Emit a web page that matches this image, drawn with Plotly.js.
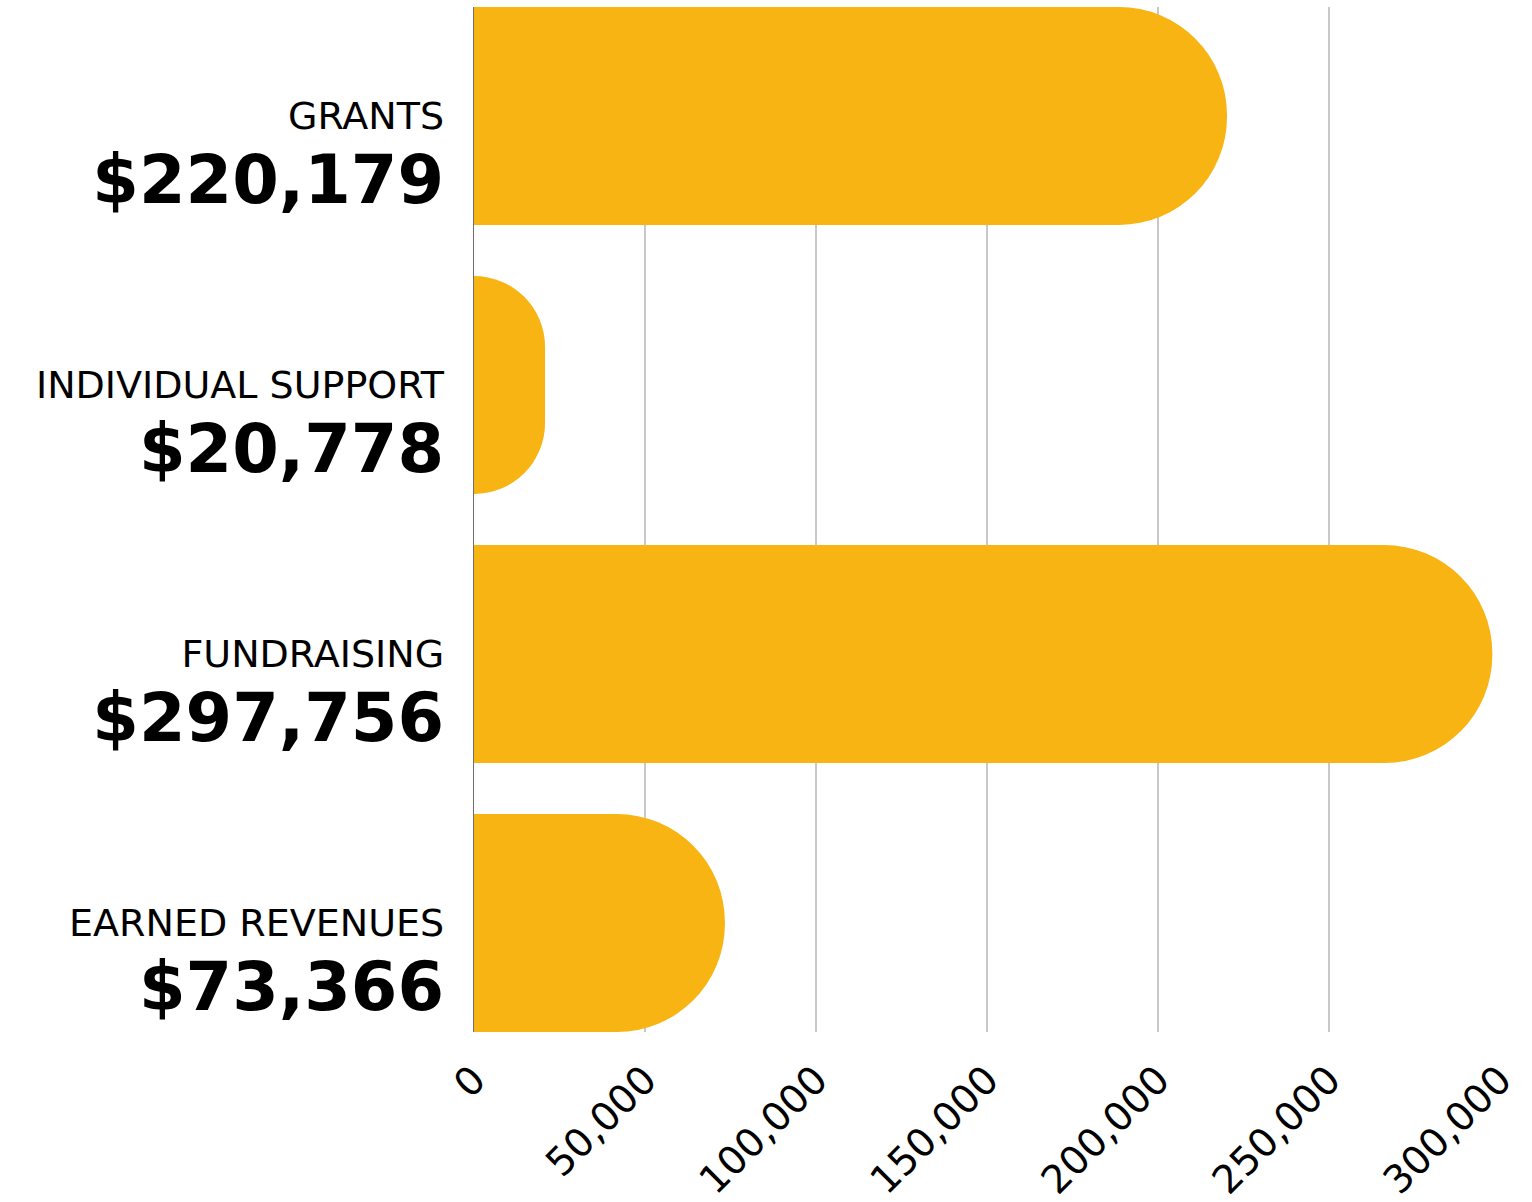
<!DOCTYPE html>
<html>
<head>
<meta charset="utf-8">
<script src="https://cdn.plot.ly/plotly-3.0.1.min.js"></script>
<style>
  html, body { margin: 0; padding: 0; background: #ffffff; }
  #chart { width: 1532px; height: 1202px; }
</style>
</head>
<body>
<div id="chart"></div>
<script>
// ---- data ----
const categories = ['GRANTS', 'INDIVIDUAL SUPPORT', 'FUNDRAISING', 'EARNED REVENUES'];
const amounts = [220179, 20778, 297756, 73366];
const xTickValues = [0, 50000, 100000, 150000, 200000, 250000, 300000];

// ---- style ----
const barColor = '#F7B412';
const fontFamily = '"DejaVu Sans", Verdana, sans-serif';

const yTickText = categories.map((c, i) =>
  '<span style="font-size:38px;font-weight:400">' + c + '</span><br>' +
  '<span style="font-size:67px;font-weight:700">$' + amounts[i].toLocaleString('en-US') + '</span>'
);

const barWidth = 0.81;

const trace = {
  type: 'bar',
  orientation: 'h',
  y: categories,
  x: amounts,
  width: barWidth,
  marker: { color: barColor, cornerradius: '50%', line: { width: 0 } },
  hoverinfo: 'skip'
};

const layout = {
  width: 1532,
  height: 1202,
  margin: { l: 474, r: 32, t: 7, b: 170 },
  paper_bgcolor: '#ffffff',
  plot_bgcolor: '#ffffff',
  showlegend: false,
  font: { family: fontFamily, color: '#000000' },
  xaxis: {
    range: [0, 300000],
    tickvals: xTickValues,
    tickformat: ',d',
    tickangle: -45,
    tickfont: { size: 39, family: fontFamily, color: '#000000' },
    showgrid: true,
    gridcolor: '#c8c8c8',
    gridwidth: 1.5,
    zeroline: false,
    showline: false,
    ticks: '',
    ticklabelstandoff: 16
  },
  yaxis: {
    type: 'category',
    categoryorder: 'array',
    categoryarray: categories,
    range: [3 + barWidth / 2, -barWidth / 2],
    tickvals: categories,
    ticktext: yTickText,
    tickfont: { size: 57, family: fontFamily, color: '#000000' },
    showgrid: false,
    zeroline: false,
    showline: true,
    linecolor: '#6e6e6e',
    linewidth: 1.5,
    ticks: '',
    ticklabelstandoff: 17,
    ticklabelshift: -30
  }
};

Plotly.newPlot('chart', [trace], layout, { displayModeBar: false, staticPlot: true });
</script>
</body>
</html>
